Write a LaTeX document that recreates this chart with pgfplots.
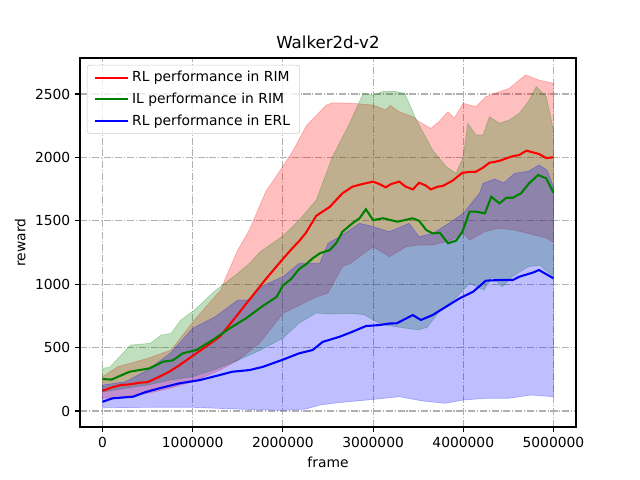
\documentclass[border=0pt]{standalone}
\usepackage{fontspec}
\setmainfont{DejaVu Sans}
\usepackage{pgfplots}
\pgfplotsset{compat=1.18}
\usepgfplotslibrary{fillbetween}
\definecolor{mgreen}{rgb}{0,0.502,0}
\definecolor{gridc}{rgb}{0.69,0.69,0.69}
\definecolor{legedge}{rgb}{0.8,0.8,0.8}
\begin{document}
\begin{tikzpicture}
\begin{axis}[
  at={(0,0)}, anchor=south west,
  scale only axis, width=4.96in, height=3.69in,
  xmin=-0.25, xmax=5.25, ymin=-126, ymax=2784,
  xtick={0,1,2,3,4,5},
  xticklabels={0,1000000,2000000,3000000,4000000,5000000},
  ytick={0,500,1000,1500,2000,2500},
  /pgf/number format/1000 sep={},
  /pgf/number format/assume math mode=true,
  tick align=outside, tick pos=left,
  major tick length=3.5pt,
  every tick/.style={black, line width=0.8pt},
  axis line style={line width=0.8pt},
  ticklabel style={font=\fontsize{10}{12}\selectfont},
  grid=major,
  major grid style={gridc, line width=0.8pt, dash pattern=on 5.1pt off 1.3pt on 0.8pt off 1.3pt},
  xlabel={frame}, ylabel={reward},
  label style={font=\fontsize{10}{12}\selectfont},
  title={Walker2d-v2},
  title style={font=\fontsize{12}{14}\selectfont, yshift=-3pt},
  legend style={at={(0,1)}, anchor=north west, xshift=5pt, yshift=-5pt,
    draw=legedge, rounded corners=2pt, fill=white, fill opacity=0.8, text opacity=1,
    font=\fontsize{10}{12}\selectfont, inner xsep=5pt, inner ysep=2.5pt, row sep=2.5pt},
  legend cell align=left,
  legend image code/.code={\draw[#1] (0pt,0pt) -- (20pt,0pt); \path (0pt,0pt) -- (24pt,0pt);},
]
% ---- band paths ----
\addplot[name path=ru, draw=none, forget plot] coordinates {
(0,270) (0.17,350) (0.5,415) (0.76,481) (1.02,718) (1.31,954) (1.37,1059) (1.5,1270) (1.63,1430) (1.81,1730) (2.0,1930) (2.11,2050) (2.26,2250) (2.41,2360) (2.48,2413) (2.55,2430) (2.77,2427) (3.0,2413) (3.14,2374) (3.19,2410) (3.29,2360) (3.44,2321) (3.51,2282) (3.64,2229) (3.73,2282) (3.83,2360) (3.9,2310) (4.0,2427) (4.14,2400) (4.25,2479) (4.40,2518) (4.51,2545) (4.69,2650) (4.84,2610) (5.0,2584)};
\addplot[name path=rl, draw=none, forget plot] coordinates {
(0,100) (0.25,113) (0.5,140) (0.75,180) (1.0,231) (1.3,323) (1.5,400) (1.74,534) (2.0,770) (2.37,900) (2.5,930) (2.66,1138) (2.75,1165) (3.0,1296) (3.18,1217) (3.37,1296) (3.51,1309) (3.66,1309) (3.84,1340) (4.0,1401) (4.07,1348) (4.24,1414) (4.38,1441) (4.55,1430) (4.72,1401) (4.93,1362) (5.0,1330)};
\addplot[name path=gu, draw=none, forget plot] coordinates {
(0,337) (0.08,345) (0.31,520) (0.53,534) (0.65,599) (0.76,612) (0.87,718) (1.02,797) (1.25,950) (1.5,1086) (1.63,1165) (1.75,1257) (2.0,1380) (2.18,1506) (2.37,1664) (2.55,2006) (2.74,2269) (2.89,2505) (3.0,2490) (3.11,2520) (3.25,2520) (3.35,2505) (3.4,2427) (3.48,2295) (3.66,2058) (3.81,1927) (3.92,1875) (4.0,2006) (4.05,2269) (4.14,2177) (4.22,2177) (4.29,2321) (4.4,2269) (4.51,2295) (4.62,2347) (4.72,2439) (4.81,2558) (4.92,2479) (5.0,2216)};
\addplot[name path=gl, draw=none, forget plot] coordinates {
(0,150) (0.25,179) (0.5,205) (0.75,244) (1.0,271) (1.25,330) (1.5,400) (1.75,480) (2.0,575) (2.18,694) (2.37,773) (2.5,765) (2.75,770) (2.9,760) (3.0,720) (3.1,680) (3.25,665) (3.5,640) (3.6,660) (3.75,800) (3.9,880) (4.07,1007) (4.23,954) (4.32,1059) (4.43,980) (4.54,1059) (4.72,1138) (4.85,1150) (5.0,1059)};
\addplot[name path=bu, draw=none, forget plot] coordinates {
(0,205) (0.25,230) (0.5,323) (0.75,455) (1.0,652) (1.25,744) (1.5,875) (1.63,875) (1.75,980) (2.0,1059) (2.18,1165) (2.41,1165) (2.5,1323) (2.63,1375) (2.85,1480) (3.0,1454) (3.18,1414) (3.4,1480) (3.51,1375) (3.66,1400) (3.84,1480) (4.0,1559) (4.18,1717) (4.22,1796) (4.35,1830) (4.45,1800) (4.57,1875) (4.72,1890) (4.84,1940) (4.93,1900) (5.0,1769)};
\addplot[name path=bl, draw=none, forget plot] coordinates {
(0,26) (0.5,29) (1.0,29) (1.5,15) (2.0,5) (2.25,15) (2.41,47) (2.6,65) (2.85,81) (3.05,95) (3.29,113) (3.55,79) (3.8,61) (4.0,87) (4.25,100) (4.5,100) (4.75,126) (5.0,113)};
% ---- fills ----
\addplot[fill=red, fill opacity=0.25, draw=red, draw opacity=0.25, line width=0.5pt, forget plot] fill between[of=ru and rl];
\addplot[fill=mgreen, fill opacity=0.25, draw=mgreen, draw opacity=0.25, line width=0.5pt, forget plot] fill between[of=gu and gl];
\addplot[fill=blue, fill opacity=0.25, draw=blue, draw opacity=0.25, line width=0.5pt, forget plot] fill between[of=bu and bl];
% ---- means ----
\addplot[red, line width=1.5pt] coordinates {
(0,160) (0.1,185) (0.2,205) (0.3,210) (0.41,223) (0.5,228) (0.6,260) (0.74,310) (0.85,360) (1.0,435) (1.15,510) (1.3,586) (1.48,744) (1.63,880) (1.81,1040) (2.0,1200) (2.1,1280) (2.18,1340) (2.25,1400) (2.37,1540) (2.52,1610) (2.66,1717) (2.77,1769) (2.88,1790) (3.0,1809) (3.07,1790) (3.14,1764) (3.2,1790) (3.29,1809) (3.36,1770) (3.44,1748) (3.51,1800) (3.58,1780) (3.64,1748) (3.72,1770) (3.77,1774) (3.88,1816) (3.99,1879) (4.07,1885) (4.14,1887) (4.22,1920) (4.29,1958) (4.35,1965) (4.41,1975) (4.48,1993) (4.55,2010) (4.62,2019) (4.70,2053) (4.77,2040) (4.84,2027) (4.92,1995) (5.0,2001)};
\addlegendentry{RL performance in RIM}
\addplot[mgreen, line width=1.5pt] coordinates {
(0,252) (0.1,248) (0.3,310) (0.52,336) (0.67,389) (0.78,400) (0.89,455) (1.04,481) (1.22,560) (1.41,652) (1.59,731) (1.78,830) (1.93,900) (2.0,990) (2.09,1040) (2.18,1120) (2.26,1160) (2.33,1204) (2.41,1244) (2.52,1270) (2.59,1323) (2.66,1414) (2.77,1480) (2.85,1520) (2.92,1591) (3.0,1506) (3.11,1520) (3.27,1493) (3.44,1520) (3.51,1500) (3.59,1427) (3.66,1401) (3.74,1406) (3.83,1323) (3.92,1343) (3.99,1414) (4.07,1572) (4.14,1572) (4.24,1559) (4.31,1690) (4.40,1638) (4.48,1682) (4.55,1682) (4.64,1717) (4.73,1796) (4.83,1861) (4.92,1835) (5.0,1722)};
\addlegendentry{IL performance in RIM}
\addplot[blue, line width=1.5pt] coordinates {
(0,73) (0.11,100) (0.34,113) (0.48,150) (0.63,179) (0.85,218) (1.08,244) (1.3,284) (1.44,310) (1.63,323) (1.78,349) (2.0,405) (2.18,455) (2.33,481) (2.44,545) (2.63,586) (2.77,625) (2.92,670) (3.07,678) (3.18,690) (3.26,691) (3.37,731) (3.44,757) (3.53,718) (3.66,757) (3.81,823) (3.96,889) (4.11,941) (4.25,1028) (4.40,1033) (4.55,1033) (4.62,1059) (4.77,1091) (4.84,1112) (5.0,1046)};
\addlegendentry{RL performance in ERL}
\end{axis}
\path (-0.80in,-0.53in) rectangle (5.60in,4.27in);
\end{tikzpicture}
\end{document}
